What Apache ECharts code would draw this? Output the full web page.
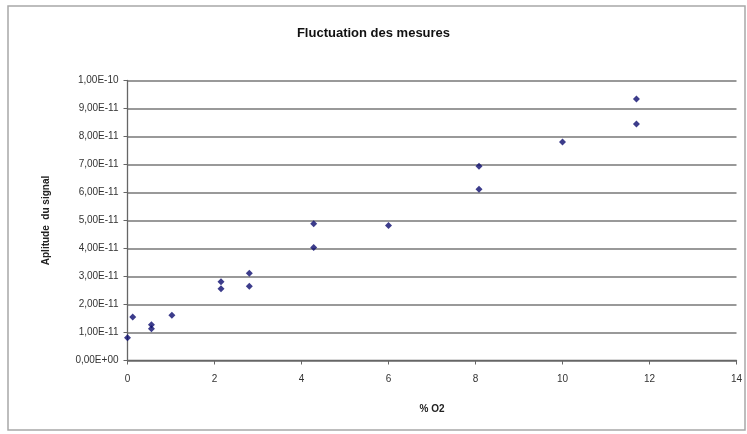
<!DOCTYPE html>
<html>
<head>
<meta charset="utf-8">
<script src="https://cdn.jsdelivr.net/npm/echarts@6/dist/echarts.min.js"></script>
<style>
  html, body { margin: 0; padding: 0; background: #fff; }
  #chart { width: 747px; height: 434px; }
</style>
</head>
<body>
<div id="chart"></div>
<script>
// Oxygen percentage of each measurement
const o2Percent = [0, 0.12, 0.55, 0.55, 1.02, 2.15, 2.15, 2.8, 2.8, 4.28, 4.28, 6.0, 8.08, 8.08, 10.0, 11.7, 11.7];
// Measured signal amplitude
const amplitude = [8.1e-12, 1.55e-11, 1.28e-11, 1.13e-11, 1.62e-11, 2.81e-11, 2.56e-11, 3.12e-11, 2.65e-11, 4.88e-11, 4.04e-11, 4.82e-11, 6.94e-11, 6.12e-11, 7.8e-11, 9.34e-11, 8.45e-11];

const xTicks = { min: 0, max: 14, step: 2 };
const yTicks = { min: 0, max: 1e-10, step: 1e-11 };

const points = o2Percent.map((x, i) => [x, amplitude[i]]);

// French-style scientific notation, e.g. 1,00E-11
function sci(v) {
  const s = Number(v).toExponential(2);
  const m = s.match(/^(-?[\d.]+)e([+-])(\d+)$/);
  const exp = m[3].padStart(2, '0');
  return m[1].replace('.', ',') + 'E' + m[2] + exp;
}

const FONT = '"Liberation Sans", Arial, sans-serif';
const chart = echarts.init(document.getElementById('chart'));
chart.setOption({
  animation: false,
  backgroundColor: '#ffffff',
  title: {
    text: 'Fluctuation des mesures',
    left: 'center',
    top: 22,
    textStyle: { fontFamily: FONT, fontSize: 13, fontWeight: 'bold', color: '#111' }
  },
  graphic: [{
    type: 'rect',
    shape: { x: 8, y: 6, width: 737, height: 424 },
    style: { fill: 'none', stroke: '#a8a8a8', lineWidth: 1.5 },
    silent: true
  }],
  grid: { left: 127.5, right: 10.5, top: 80.5, bottom: 73.5 },
  xAxis: {
    type: 'value',
    min: xTicks.min, max: xTicks.max, interval: xTicks.step,
    name: '% O2',
    nameLocation: 'middle',
    nameGap: 44,
    nameTextStyle: { fontFamily: FONT, fontSize: 10, fontWeight: 'bold', color: '#222' },
    axisLine: { lineStyle: { color: '#666', width: 1.3 } },
    axisTick: { show: true, length: 4, lineStyle: { color: '#666' } },
    axisLabel: { fontFamily: FONT, fontSize: 10, color: '#333', margin: 14 },
    splitLine: { show: false }
  },
  yAxis: {
    type: 'value',
    min: yTicks.min, max: yTicks.max, interval: yTicks.step,
    name: 'Aplitude  du signal',
    nameLocation: 'middle',
    nameGap: 76,
    nameTextStyle: { fontFamily: FONT, fontSize: 10, fontWeight: 'bold', color: '#222' },
    axisLine: { show: true, lineStyle: { color: '#666', width: 1.3 } },
    axisTick: { show: true, length: 4, lineStyle: { color: '#666' } },
    axisLabel: { fontFamily: FONT, fontSize: 10, color: '#333', margin: 9, formatter: sci },
    splitLine: { show: true, lineStyle: { color: '#777', width: 1.5 } }
  },
  series: [{
    type: 'scatter',
    data: points,
    symbol: 'diamond',
    symbolSize: 7,
    itemStyle: { color: '#0b0b6e' }
  }]
});
</script>
</body>
</html>
